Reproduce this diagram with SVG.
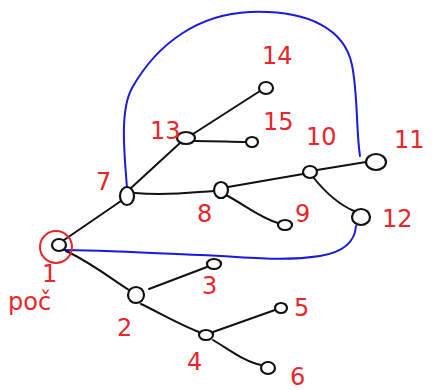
<svg xmlns="http://www.w3.org/2000/svg" width="432" height="390" viewBox="0 0 432 390">
<style>
.n{fill:#fff;stroke:#111;stroke-width:2.2}
.e{fill:none;stroke:#111;stroke-width:2;stroke-linecap:round}
.b{fill:none;stroke:#1a1adf;stroke-width:2;stroke-linecap:round}
.t{font-family:"DejaVu Sans",sans-serif;font-size:24px;fill:#e8262a}
</style>
<rect width="432" height="390" fill="#fff"/>
<g id="connectors">
<path class="b" d="M127,188 C124,150 120,110 132,88 C158,42 200,14 250,12 C310,10 345,30 352,65 C358,95 356,130 360,156"/>
<path class="b" d="M60,250 C100,250 150,253 200,255 C250,257 280,262 320,256 C345,252 355,240 356,226"/>
<path class="e" d="M64,240 L121,201"/>
<path class="e" d="M66,251 C90,262 110,278 129,290"/>
<path class="e" d="M131,188 L180,143"/>
<path class="e" d="M193,134 L260,91"/>
<path class="e" d="M195,141 C215,141 232,142 246,142"/>
<path class="e" d="M135,193 C170,196 195,192 214,191"/>
<path class="e" d="M228,187 L303,174"/>
<path class="e" d="M226,195 C245,205 260,218 278,223"/>
<path class="e" d="M317,170 L366,162"/>
<path class="e" d="M313,177 C325,192 340,205 354,211"/>
<path class="e" d="M149,289 L207,267"/>
<path class="e" d="M141,304 C160,313 180,325 199,332"/>
<path class="e" d="M213,332 L275,310"/>
<path class="e" d="M213,340 C230,350 245,362 261,365"/>
</g>
<g id="node1"><circle cx="56" cy="247" r="16" fill="none" stroke="#e8262a" stroke-width="2"/><ellipse class="n" cx="59" cy="245" rx="7" ry="6"/><text class="t" x="42" y="282">1</text><text class="t" x="8" y="310">poč</text></g>
<g id="node2"><ellipse class="n" cx="136" cy="295" rx="8" ry="8"/><text class="t" x="117" y="336">2</text></g>
<g id="node3"><ellipse class="n" cx="214" cy="264" rx="7" ry="5"/><text class="t" x="202" y="294">3</text></g>
<g id="node4"><ellipse class="n" cx="206" cy="335" rx="7" ry="5"/><text class="t" x="187" y="370">4</text></g>
<g id="node5"><ellipse class="n" cx="281" cy="308" rx="6" ry="5"/><text class="t" x="294" y="316">5</text></g>
<g id="node6"><ellipse class="n" cx="268" cy="368" rx="7" ry="6"/><text class="t" x="290" y="385">6</text></g>
<g id="node7"><ellipse class="n" cx="127" cy="196" rx="7" ry="9"/><text class="t" x="96" y="190">7</text></g>
<g id="node8"><ellipse class="n" cx="221" cy="190" rx="7" ry="8"/><text class="t" x="197" y="222">8</text></g>
<g id="node9"><ellipse class="n" cx="285" cy="225" rx="7" ry="5"/><text class="t" x="295" y="222">9</text></g>
<g id="node10"><ellipse class="n" cx="310" cy="172" rx="7" ry="6"/><text class="t" x="306" y="145">10</text></g>
<g id="node11"><ellipse class="n" cx="376" cy="162" rx="10" ry="8"/><text class="t" x="394" y="148">11</text></g>
<g id="node12"><ellipse class="n" cx="361" cy="217" rx="9" ry="8"/><text class="t" x="382" y="227">12</text></g>
<g id="node13"><ellipse class="n" cx="186" cy="138" rx="9" ry="6"/><text class="t" x="150" y="139">13</text></g>
<g id="node14"><ellipse class="n" cx="266" cy="88" rx="7" ry="6"/><text class="t" x="262" y="64">14</text></g>
<g id="node15"><ellipse class="n" cx="252" cy="142" rx="6" ry="5"/><text class="t" x="263" y="130">15</text></g>
</svg>
